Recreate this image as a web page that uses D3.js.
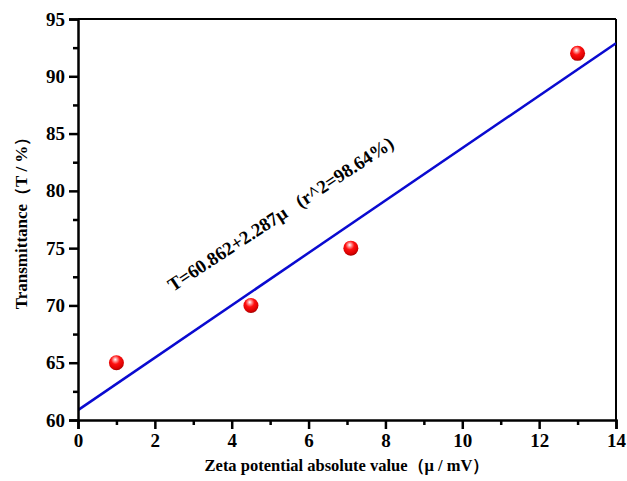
<!DOCTYPE html>
<html><head><meta charset="utf-8">
<script src="https://cdn.jsdelivr.net/npm/d3@7"></script>
<style>body{margin:0;background:#fff;} svg text{font-family:"Liberation Serif","Times New Roman",serif !important;font-weight:bold;}</style>
</head><body>
<svg id="c" width="627" height="481"></svg>
<script>
const xValues = [1, 4.5, 7.1, 13];
const yValues = [65, 70, 75, 92];
const fitIntercept = 60.862, fitSlope = 2.287;
const xTicks = [0, 2, 4, 6, 8, 10, 12, 14];
const yTicks = [60, 65, 70, 75, 80, 85, 90, 95];
const xTitle = "Zeta potential absolute value\uFF08\u03BC / mV\uFF09";
const yTitle = "Transmittance\uFF08T / %\uFF09";
const annotation = "T=60.862+2.287\u03BC\u00A0\u00A0\u00A0(r^2=98.64%)";

const svg = d3.select("#c");
const L = 78, R = 616, T = 19, B = 420;
const x = d3.scaleLinear().domain([0, 14]).range([L, R]);
const y = d3.scaleLinear().domain([60, 95]).range([B, T]);

const defs = svg.append("defs");
const g = defs.append("radialGradient").attr("id", "ball").attr("cx", "45%").attr("cy", "35%").attr("r", "65%").attr("fx", "42%").attr("fy", "28%");
g.append("stop").attr("offset", "0%").attr("stop-color", "#ffffff");
g.append("stop").attr("offset", "18%").attr("stop-color", "#ff9a9a");
g.append("stop").attr("offset", "45%").attr("stop-color", "#ff1010");
g.append("stop").attr("offset", "85%").attr("stop-color", "#d80000");
g.append("stop").attr("offset", "100%").attr("stop-color", "#a00000");
defs.append("clipPath").attr("id", "clip").append("rect").attr("x", L).attr("y", T).attr("width", R - L).attr("height", B - T);

// frame top/right
svg.append("line").attr("x1", L).attr("x2", R).attr("y1", T).attr("y2", T).attr("stroke", "#000").attr("stroke-width", 2);
svg.append("line").attr("x1", R).attr("x2", R).attr("y1", T).attr("y2", B).attr("stroke", "#000").attr("stroke-width", 2);

// fit line
svg.append("line").attr("clip-path", "url(#clip)")
  .attr("x1", x(0)).attr("y1", y(fitIntercept))
  .attr("x2", x(14)).attr("y2", y(fitIntercept + fitSlope * 14))
  .attr("stroke", "#0a0ad0").attr("stroke-width", 2.5);

// axes
svg.append("g").attr("transform", `translate(0,${B})`)
  .call(d3.axisBottom(x).tickValues(xTicks).tickFormat(d3.format("d")).tickSize(9).tickPadding(5));
svg.append("g").attr("transform", `translate(${L},0)`)
  .call(d3.axisLeft(y).tickValues(yTicks).tickFormat(d3.format("d")).tickSize(9).tickPadding(4));
// minor ticks
const xMinor = d3.range(1, 14, 2);
const yMinor = d3.range(62.5, 95, 5);
svg.append("g").attr("transform", `translate(0,${B})`)
  .call(d3.axisBottom(x).tickValues(xMinor).tickFormat("").tickSize(5)).select(".domain").remove();
svg.append("g").attr("transform", `translate(${L},0)`)
  .call(d3.axisLeft(y).tickValues(yMinor).tickFormat("").tickSize(5)).select(".domain").remove();
svg.selectAll("g").attr("font-family", "Liberation Serif").attr("font-weight", "bold").attr("font-size", 19);
svg.selectAll(".domain").attr("stroke-width", 2.5);
svg.selectAll(".tick line").attr("stroke-width", 2.5);
svg.selectAll(".tick text").attr("fill", "#000");

// points
svg.append("g").selectAll("circle").data(xValues).join("circle")
  .attr("cx", (d) => x(d)).attr("cy", (d, i) => y(yValues[i])).attr("r", 7.5)
  .attr("fill", "url(#ball)");

// titles
svg.append("text").attr("x", 347).attr("y", 471).attr("text-anchor", "middle").attr("font-size", 16.5).text(xTitle);
svg.append("text").attr("transform", "translate(27,219) rotate(-90)").attr("text-anchor", "middle").attr("font-size", 17).text(yTitle);

// annotation
svg.append("text").attr("transform", "translate(173,292) rotate(-33.2)").attr("font-size", 18.8).text(annotation);
</script>
</body></html>
